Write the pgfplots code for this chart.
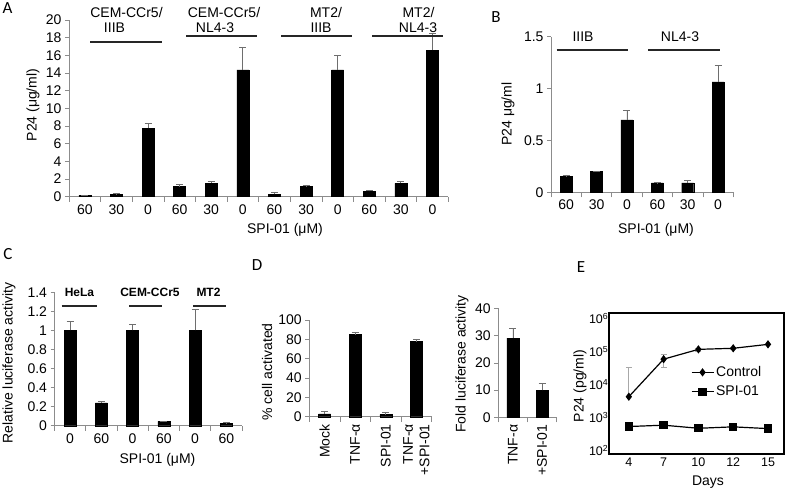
\documentclass[border=0pt]{standalone}
\usepackage{pgfplots}
\pgfplotsset{compat=1.18}
\usepackage{fontspec}
\setmainfont{Liberation Sans}
\newfontfamily\letterfont{Carlito}
\definecolor{axgray}{HTML}{8C8C8C}
\definecolor{errgray}{HTML}{6E6E6E}
\definecolor{lgray}{HTML}{A8A8A8}
\newcommand{\fs}{\fontsize{14}{16.5}\selectfont}
\newcommand{\lf}{\letterfont\fontsize{17}{20}\selectfont}
\pgfplotsset{
  barpanel/.style={
    scale only axis, anchor=south west, clip=false,
    axis x line=bottom, axis y line=left,
    axis line style={-, draw=axgray, line width=0.6pt},
    ybar, bar width=12pt,
    ymin=0,
    tick align=outside,
    major tick length=4pt, minor tick length=5pt,
    major x tick style={draw=none},
    minor x tick style={draw=axgray, line width=0.6pt},
    y tick style={draw=axgray, line width=0.6pt},
    tick label style={font=\fs},
    /pgf/number format/assume math mode=true,
    error bars/y dir=plus, error bars/y explicit,
    error bars/error bar style={color=errgray, line width=0.8pt},
    error bars/error mark options={rotate=90, color=errgray, mark size=3.5pt, line width=0.8pt},
  },
}
\begin{document}
\begin{tikzpicture}[x=1pt,y=1pt]
\useasboundingbox (0,0) rectangle (787,490);

% ---------------- Panel A ----------------
\begin{axis}[barpanel, at={(69pt,293.3pt)}, width=379.3pt, height=176.7pt,
  xmin=-0.5, xmax=11.5, ymax=20, ytick={0,2,...,20},
  xtick={0,...,11}, xticklabels={60,30,0,60,30,0,60,30,0,60,30,0},
  minor xtick={-0.5,0.5,...,11.5}]
\addplot[fill=black, draw=black] table[x=x, y=y, y error=e] {
x y e
0 0.15 0.05
1 0.25 0.10
2 7.75 0.55
3 1.15 0.25
4 1.55 0.15
5 14.35 2.50
6 0.25 0.20
7 1.15 0.15
8 14.35 1.60
9 0.60 0.15
10 1.50 0.20
11 16.60 1.90
};
\end{axis}
\node[font=\fs] at (126.5,477) {CEM-CCr5/};
\node[font=\fs] at (114.5,462) {IIIB};
\node[font=\fs] at (224,477) {CEM-CCr5/};
\node[font=\fs] at (215,462) {NL4-3};
\node[font=\fs] at (326,477) {MT2/};
\node[font=\fs] at (321,462) {IIIB};
\node[font=\fs] at (418.5,477) {MT2/};
\node[font=\fs] at (418,462) {NL4-3};
\draw[line width=1.6pt, black!85] (90,448) -- (162,448);
\draw[line width=1.6pt, black!85] (186,454) -- (257,454);
\draw[line width=1.6pt, black!85] (281,454) -- (352,454);
\draw[line width=1.6pt, black!85] (372,454) -- (443,454);
\node[font=\fs, rotate=90] at (33,385) {P24 (μg/ml)};
\node[font=\fs] at (285,260) {SPI-01 (μM)};
\node[font=\lf] at (7.5,482) {A};

% ---------------- Panel B ----------------
\begin{axis}[barpanel, at={(551pt,297.7pt)}, width=182.3pt, height=155.6pt,
  xmin=-0.5, xmax=5.5, ymax=1.5, ytick={0,0.5,1,1.5}, yticklabels={0,0.5,1,1.5},
  xtick={0,...,5}, xticklabels={60,30,0,60,30,0},
  minor xtick={-0.5,0.5,...,5.5}]
\addplot[fill=black, draw=black] table[x=x, y=y, y error=e] {
x y e
0 0.151 0.016
1 0.200 0.003
2 0.698 0.092
3 0.090 0.003
4 0.090 0.023
5 1.064 0.156
};
\end{axis}
\node[font=\fs] at (583,453.3) {IIIB};
\node[font=\fs] at (680,453.3) {NL4-3};
\draw[line width=1.6pt, black!85] (556.7,440) -- (628.3,440);
\draw[line width=1.6pt, black!85] (648.3,440) -- (720,440);
\node[font=\fs, rotate=90] at (508,376) {P24 μg/ml};
\node[font=\fs] at (656,260) {SPI-01 (μM)};
\node[font=\lf] at (496,473) {B};

% ---------------- Panel C ----------------
\begin{axis}[barpanel, at={(54.5pt,64.3pt)}, width=187.5pt, height=133.4pt,
  xmin=-0.5, xmax=5.5, ymax=1.4, ytick={0,0.2,...,1.4},
  yticklabels={0,0.2,0.4,0.6,0.8,1,1.2,1.4},
  xtick={0,...,5}, xticklabels={0,60,0,60,0,60},
  minor xtick={-0.5,0.5,...,5.5}]
\addplot[fill=black, draw=black] table[x=x, y=y, y error=e] {
x y e
0 1.00 0.09
1 0.24 0.01
2 1.00 0.06
3 0.045 0.003
4 1.00 0.22
5 0.028 0.003
};
\end{axis}
\node[font=\bfseries\fontsize{12}{14}\selectfont] at (79.5,197.7) {HeLa};
\node[font=\bfseries\fontsize{12}{14}\selectfont] at (150,197.7) {CEM-CCr5};
\node[font=\bfseries\fontsize{12}{14}\selectfont] at (208.5,197.7) {MT2};
\draw[line width=1.6pt, black!85] (61.7,184) -- (97.3,184);
\draw[line width=1.6pt, black!85] (129,184) -- (162,184);
\draw[line width=1.6pt, black!85] (193,184) -- (226,184);
\node[font=\fs, rotate=90] at (9,127) {Relative luciferase activity};
\node[font=\fs] at (157.5,30) {SPI-01 (μM)};
\node[font=\lf] at (8,236) {C};

% ---------------- Panel D (left) ----------------
\begin{axis}[barpanel, at={(309.3pt,73.3pt)}, width=122.4pt, height=96.7pt,
  xmin=-0.5, xmax=3.5, ymax=100, ytick={0,20,...,100},
  xtick={0,...,3}, xticklabels={Mock,TNF-α,SPI-01,{TNF-α\\+SPI-01}},
  xticklabel style={rotate=90, anchor=east, align=right},
  minor xtick={-0.5,0.5,...,3.5}]
\addplot[fill=black, draw=black] table[x=x, y=y, y error=e] {
x y e
0 2.8 3.1
1 84.8 2.4
2 2.1 2.0
3 77.6 2.7
};
\end{axis}
\node[font=\fs, rotate=90] at (267,118) {\% cell activated};
\node[font=\lf] at (257,225) {D};

% ---------------- Panel D (right) ----------------
\begin{axis}[barpanel, at={(498.3pt,72.7pt)}, width=58.4pt, height=109pt,
  xmin=-0.5, xmax=1.5, ymax=40, ytick={0,10,...,40},
  xtick={0,1}, xticklabels={TNF-α,+SPI-01},
  xticklabel style={rotate=90, anchor=east},
  minor xtick={-0.5,0.5,1.5}]
\addplot[fill=black, draw=black] table[x=x, y=y, y error=e] {
x y e
0 29.1 3.4
1 9.9 2.6
};
\end{axis}
\node[font=\fs, rotate=90] at (462,126) {Fold luciferase activity};

% ---------------- Panel E ----------------
\begin{axis}[scale only axis, anchor=south west, at={(609pt,36pt)}, width=175pt, height=141pt,
  ymode=log, ymin=79, ymax=1.48e6, xmin=-0.57, xmax=4.46,
  axis line style={line width=1.2pt, black},
  tick style={draw=none},
  xtick={0,...,4}, xticklabels={4,7,10,12,15},
  ytick={100,1000,10000,100000,1000000},
  yticklabels={10\textsuperscript{2},10\textsuperscript{3},10\textsuperscript{4},10\textsuperscript{5},10\textsuperscript{6}},
  tick label style={font=\fontsize{12.5}{15}\selectfont},
  yticklabel style={inner sep=0.5pt},
  legend style={draw=none, fill=none, at={(0.45,0.65)}, anchor=north west, font=\fs, row sep=4pt},
  legend cell align=left,
  legend image code/.code={\draw[mark repeat=2,mark phase=2] plot coordinates {(0pt,0pt) (11pt,0pt) (22pt,0pt)};},
  ]
\addplot[forget plot, draw=none, mark=none, lgray,
  error bars/.cd, y dir=plus, y explicit,
  error bar style={lgray, line width=0.8pt},
  error mark options={rotate=90, lgray, mark size=3pt, line width=0.8pt}]
  coordinates {(0,4300) +- (0,28000)};
\addplot[forget plot, draw=none, mark=none, lgray,
  error bars/.cd, y dir=both, y explicit,
  error bar style={lgray, line width=0.8pt},
  error mark options={rotate=90, lgray, mark size=3pt, line width=0.8pt}]
  coordinates {(1,59000) +- (0,26000) (2,117000) +- (0,12000) (3,126000) +- (0,8000)};
\addplot[black, line width=1.2pt, mark=diamond*, mark size=3.2pt, mark options={solid, fill=black}]
  coordinates {(0,4300) (1,59000) (2,117000) (3,126000) (4,166000)};
\addlegendentry{Control}
\addplot[black, line width=1.2pt, mark=square*, mark size=3.6pt, mark options={solid, fill=black}]
  coordinates {(0,537) (1,590) (2,475) (3,525) (4,465)};
\addlegendentry{SPI-01}
\end{axis}
\node[font=\fs, rotate=90] at (580,104) {P24 (pg/ml)};
\node[font=\fs] at (708,8) {Days};
\node[font=\lf] at (581,223) {E};
\end{tikzpicture}
\end{document}
